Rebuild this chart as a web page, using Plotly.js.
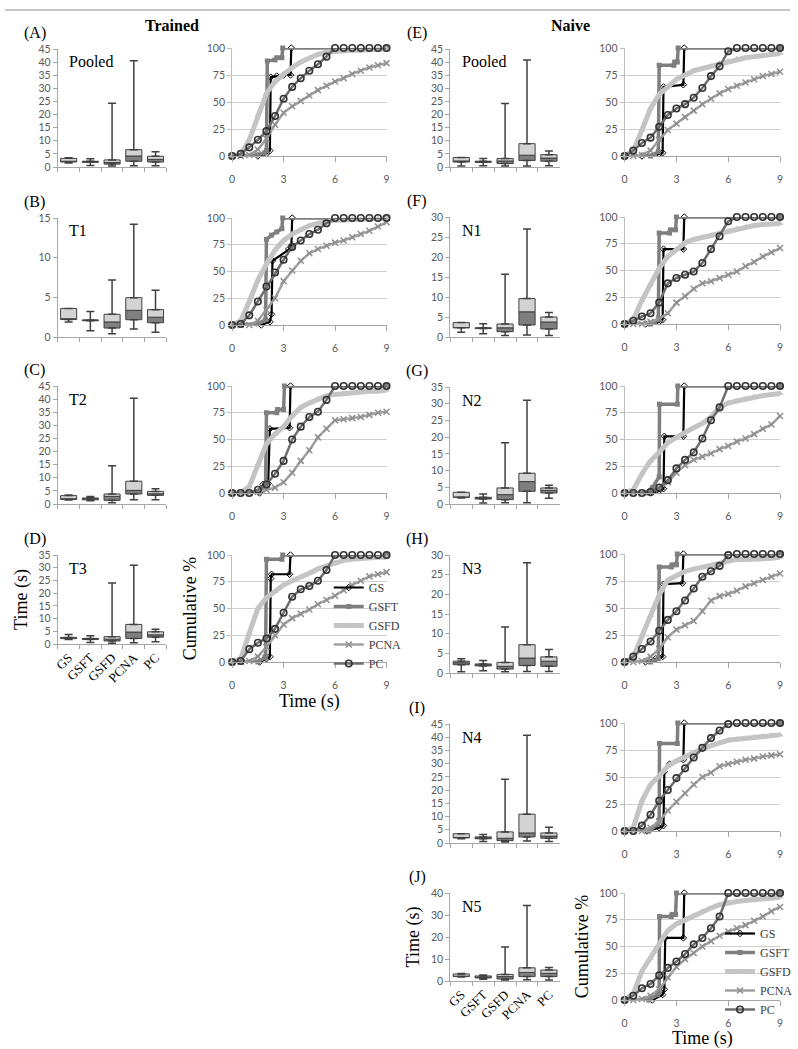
<!DOCTYPE html>
<html><head><meta charset="utf-8">
<script src="https://cdn.plot.ly/plotly-3.0.1.min.js"></script>
<style>html,body{margin:0;padding:0;background:#fff}#chart{width:798px;height:1049px}</style>
</head><body><div id="chart"></div>
<script>
// ---------------- DATA ----------------
const categories = ['GS','GSFT','GSFD','PCNA','PC'];
const seriesNames = ['GS','GSFT','GSFD','PCNA','PC'];
const timeGrid = [0,0.5,1,1.5,2,2.5,3,3.5,4,4.5,5,5.5,6,6.5,7,7.5,8,8.5,9];
const timeTicks = [0,3,6,9];
const pctTicks = [0,25,50,75,100];

// (A) Trained - Pooled
const A_min=[1.5,0.6,0.4,0.5,0.5], A_q1=[1.9,1.8,1.1,2.2,1.9], A_med=[2.2,2.0,1.7,4.2,2.9], A_q3=[3.3,2.2,2.7,6.6,4.1], A_max=[3.5,3.1,24.3,40.5,5.8];
const A_GS_t=[0,1.5,2.0,2.2,2.25,2.6,3.0,3.4,3.45,9], A_GS_y=[0,0,2,5,73,74,75,75,100,100];
const A_GSFT_t=[0,1.5,1.9,2.0,2.05,2.5,2.6,2.9,2.95,9], A_GSFT_y=[0,1,3,5,88,89,91,91,100,100];
const A_GSFD=[0,1,15,38,58,69,76,82,87,91,94,96,97,97.5,98,98,98.5,99,99];
const A_PCNA=[0,0,1,6,16,29,40,46,51,56,61,65,69,72,76,79,82,84,86];
const A_PC=[0,2,8,15,23,37,53,64,72,79,85,92,100,100,100,100,100,100,100];

// (B) Trained - T1
const B_min=[1.9,0.8,0.4,1.0,0.6], B_q1=[2.2,2.05,1.13,2.18,1.8], B_med=[2.3,2.1,1.9,3.36,2.5], B_q3=[3.6,2.15,2.86,4.96,3.45], B_max=[3.6,3.2,7.2,14.2,5.9];
const B_GS_t=[0,1.7,2.2,2.3,2.35,3.3,3.45,3.5,9], B_GS_y=[0,0,3,10,60,71,72,100,100];
const B_GSFT_t=[0,1.5,1.95,2.0,2.3,2.6,2.9,2.95,9], B_GSFT_y=[0,1,5,80,84,87,90,100,100];
const B_GSFD=[0,4,22,42,57,70,79,85,89,93,95,97,98,98,99,99,99,99.5,100];
const B_PCNA=[0,0,0,4,14,25,41,51,60,67,71,74,77,79,82,85,88,92,96];
const B_PC=[0,1,9,22,36,49,61,73,79,85,89,95,100,100,100,100,100,100,100];

// (C) Trained - T2
const C_min=[1.5,1.2,0.5,1.6,1.6], C_q1=[1.7,1.6,1.4,3.8,3.3], C_med=[2.0,2.0,2.9,5.2,3.9], C_q3=[3.2,2.3,3.8,8.7,4.8], C_max=[3.4,2.9,14.6,40.3,5.8];
const C_GS_t=[0,1.6,1.8,2.1,2.2,3.35,3.4,9], C_GS_y=[0,0,8,9,60,61,100,100];
const C_GSFT_t=[0,1.6,1.95,2.0,2.6,2.65,3.0,3.05,9], C_GSFT_y=[0,0,8,75,75,78,78,100,100];
const C_GSFD=[0,0,6,27,46,55,62,72,80,84,88,91,92,93,93,94,95,95,96];
const C_PCNA=[0,0,0,1,3,5,10,19,30,40,52,60,68,69,70,71,73,75,76];
const C_PC=[0,0,0,3,8,18,30,50,62,71,76,87,100,100,100,100,100,100,100];

// (D) Trained - T3
const D_min=[1.8,0.6,0.3,0.5,0.9], D_q1=[2.1,1.8,1.2,2.2,2.7], D_med=[2.3,2.0,1.9,4.7,3.6], D_q3=[2.6,2.2,2.9,7.7,4.8], D_max=[3.7,3.2,24.0,31.0,5.8];
const D_GS_t=[0,1.6,2.0,2.2,2.25,2.3,3.35,3.4,9], D_GS_y=[0,0,3,5,78,82,82,100,100];
const D_GSFT_t=[0,1.5,1.9,1.95,2.0,2.9,2.95,9], D_GSFT_y=[0,0,4,5,96,96,100,100];
const D_GSFD=[0,3,27,50,60,66,72,76,79,83,87,90,93,95,96,97,97,98,98];
const D_PCNA=[0,0,1,5,14,25,35,41,45,49,54,58,62,67,72,76,80,82,84];
const D_PC=[0,1,12,18,22,31,46,61,68,71,76,86,100,100,100,100,100,100,100];

// (E) Naive - Pooled
const E_min=[0.4,0.5,0.4,0.4,0.5], E_q1=[1.9,1.8,1.3,2.5,2.2], E_med=[2.3,2.0,2.3,4.5,3.4], E_q3=[3.6,2.2,3.2,8.9,4.7], E_max=[3.6,3.2,24.2,40.8,6.1];
const E_GS_t=[0,1.0,2.0,2.2,2.25,3.4,3.45,9], E_GS_y=[0,0,2,3,64,66,100,100];
const E_GSFT_t=[0,1.5,1.95,2.0,2.85,2.9,3.05,3.1,9], E_GSFT_y=[0,0,4,84,84,87,87,100,100];
const E_GSFD=[0,5,24,44,57,64,71,75,79,81,83,86,88,90,91,92,93,94,95];
const E_PCNA=[0,0,1,5,15,24,30,36,42,48,53,58,62,65,68,71,74,76,78];
const E_PC=[0,5,12,17,27,38,44,48,54,63,74,83,97,100,100,100,100,100,100];

// (F) Naive - N1
const F_min=[1.2,0.8,0.4,0.5,0.4], F_q1=[2.3,2.1,1.33,3.0,2.0], F_med=[2.35,2.2,2.3,6.3,3.75], F_q3=[3.6,2.3,3.25,9.6,5.0], F_max=[3.6,3.3,15.7,27.0,6.1];
const F_GS_t=[0,1.2,2.0,2.2,2.25,3.4,3.45,9], F_GS_y=[0,0,2,4,70,70,100,100];
const F_GSFT_t=[0,1.5,1.95,2.0,2.6,2.65,2.95,3.0,9], F_GSFT_y=[0,0,4,85,85,88,88,100,100];
const F_GSFD=[0,4,22,37,52,63,70,76,79,81,83,85,87,89,91,92,93,93,94];
const F_PCNA=[0,0,0,2,5,10,20,26,33,38,40,43,46,49,54,58,63,67,71];
const F_PC=[0,3,7,10,20,38,43,46,49,57,70,82,96,100,100,100,100,100,100];

// (G) Naive - N2
const G_min=[1.8,0.3,0.4,0.4,1.7], G_q1=[2.0,1.5,1.3,3.8,3.3], G_med=[2.1,1.8,2.8,6.7,4.1], G_q3=[3.5,2.0,4.8,9.2,4.8], G_max=[3.5,3.0,18.3,31.0,5.6];
const G_GS_t=[0,1.5,2.0,2.25,2.3,3.4,3.45,9], G_GS_y=[0,0,2,4,53,53,100,100];
const G_GSFT_t=[0,1.2,1.6,2.0,2.02,3.05,3.08,9], G_GSFT_y=[0,0,5,15,83,83,100,100];
const G_GSFD=[0,3,18,30,38,47,52,57,61,65,71,80,84,86,88,90,91,92,93];
const G_PCNA=[0,0,0,1,4,10,19,26,31,34,37,41,44,48,51,55,60,64,72];
const G_PC=[0,0,0,1,5,12,23,31,38,51,68,80,100,100,100,100,100,100,100];

// (H) Naive - N3
const H_min=[0.3,0.6,0.3,0.4,0.4], H_q1=[2.1,1.8,1.0,1.9,1.7], H_med=[2.6,2.1,1.7,3.8,3.0], H_q3=[3.0,2.3,2.7,7.2,4.1], H_max=[3.6,3.2,11.7,28.0,6.0];
const H_GS_t=[0,1.2,1.8,2.2,2.25,3.35,3.4,9], H_GS_y=[0,0,3,5,72,73,100,100];
const H_GSFT_t=[0,1.5,1.95,2.0,2.7,2.75,3.0,3.05,9], H_GSFT_y=[0,0,3,88,88,90,90,100,100];
const H_GSFD=[0,4,24,43,62,76,80,84,86,88,89,91,94,95,95,95,95,96,97];
const H_PCNA=[0,0,1,5,12,23,30,34,38,47,57,61,63,66,70,73,76,79,82];
const H_PC=[0,5,12,19,29,39,47,57,68,79,84,89,99,100,100,100,100,100,100];

// (I) Naive - N4
const I_min=[1.6,0.6,0.4,0.8,0.6], I_q1=[1.9,1.6,0.9,2.3,1.8], I_med=[2.1,2.0,1.8,3.8,2.6], I_q3=[3.5,2.3,4.2,10.9,3.8], I_max=[3.5,3.2,24.1,40.7,6.0];
const I_GS_t=[0,1.3,2.0,2.25,2.3,2.6,3.4,3.45,9], I_GS_y=[0,0,3,5,55,62,66,100,100];
const I_GSFT_t=[0,1.4,1.9,2.0,2.02,3.05,3.08,9], I_GSFT_y=[0,0,6,10,81,81,100,100];
const I_GSFD=[0,3,28,43,51,60,65,69,72,76,79,82,84,85,86,87,88,89,89];
const I_PCNA=[0,0,0,3,9,19,27,35,43,50,54,60,62,64,66,67,69,70,71];
const I_PC=[0,0,5,15,28,38,49,58,68,77,86,93,99,100,100,100,100,100,100];

// (J) Naive - N5
const J_min=[1.8,0.8,0.5,0.6,0.5], J_q1=[2.0,1.4,0.9,2.0,2.0], J_med=[2.2,1.8,2.0,3.9,3.5], J_q3=[3.2,2.3,3.0,6.0,5.0], J_max=[3.4,2.7,15.5,34.3,6.1];
const J_GS_t=[0,1.6,2.2,2.3,2.35,3.4,3.45,9], J_GS_y=[0,0,5,10,58,58,100,100];
const J_GSFT_t=[0,1.4,1.9,2.0,2.02,2.7,2.75,2.95,3.0,9], J_GSFT_y=[0,0,5,8,78,78,80,80,100,100];
const J_GSFD=[0,6,27,39,52,65,71,75,79,83,86,89,91,92,93,94,95,95,96];
const J_PCNA=[0,0,1,4,10,21,31,38,44,50,55,60,64,67,70,74,78,83,87];
const J_PC=[0,4,11,15,23,30,36,43,52,58,67,78,100,100,100,100,100,100,100];

// ---------------- LAYOUT / STYLE ----------------
const W=798, H=1049;
const px=p=>p/W, py=p=>1-p/H;
const SERIF='Liberation Serif, Times New Roman, serif';
const TICKFONT={family:'Lato, Liberation Sans, sans-serif', size:10.5, color:'#595959'};
const AXC='#a6a6a6';

const colGeo=[{box:[58,167], line:[233,388], letterX:35, nameX:67},
              {box:[452,562], line:[627,783], letterX:419, nameX:462}];

const panels=[
 {L:'(A)',N:'Pooled',c:0,bt:49,bb:167,lt:48,lb:156,bmax:45,bd:5,mn:A_min,q1:A_q1,md:A_med,q3:A_q3,mx:A_max,gt:A_GS_t,gy:A_GS_y,ft:A_GSFT_t,fy:A_GSFT_y,fd:A_GSFD,na:A_PCNA,pc:A_PC},
 {L:'(B)',N:'T1',c:0,bt:218,bb:337,lt:218,lb:325,bmax:15,bd:5,mn:B_min,q1:B_q1,md:B_med,q3:B_q3,mx:B_max,gt:B_GS_t,gy:B_GS_y,ft:B_GSFT_t,fy:B_GSFT_y,fd:B_GSFD,na:B_PCNA,pc:B_PC},
 {L:'(C)',N:'T2',c:0,bt:386,bb:504,lt:386,lb:493,bmax:45,bd:5,mn:C_min,q1:C_q1,md:C_med,q3:C_q3,mx:C_max,gt:C_GS_t,gy:C_GS_y,ft:C_GSFT_t,fy:C_GSFT_y,fd:C_GSFD,na:C_PCNA,pc:C_PC},
 {L:'(D)',N:'T3',c:0,bt:555,bb:644,lt:555,lb:662,bmax:35,bd:5,mn:D_min,q1:D_q1,md:D_med,q3:D_q3,mx:D_max,gt:D_GS_t,gy:D_GS_y,ft:D_GSFT_t,fy:D_GSFT_y,fd:D_GSFD,na:D_PCNA,pc:D_PC,bottom:true,leg:'legend'},
 {L:'(E)',N:'Pooled',c:1,bt:49,bb:167,lt:48,lb:156,bmax:45,bd:5,mn:E_min,q1:E_q1,md:E_med,q3:E_q3,mx:E_max,gt:E_GS_t,gy:E_GS_y,ft:E_GSFT_t,fy:E_GSFT_y,fd:E_GSFD,na:E_PCNA,pc:E_PC},
 {L:'(F)',N:'N1',c:1,bt:217,bb:337,lt:217,lb:324,bmax:30,bd:5,mn:F_min,q1:F_q1,md:F_med,q3:F_q3,mx:F_max,gt:F_GS_t,gy:F_GS_y,ft:F_GSFT_t,fy:F_GSFT_y,fd:F_GSFD,na:F_PCNA,pc:F_PC},
 {L:'(G)',N:'N2',c:1,bt:387,bb:504,lt:386,lb:493,bmax:35,bd:5,mn:G_min,q1:G_q1,md:G_med,q3:G_q3,mx:G_max,gt:G_GS_t,gy:G_GS_y,ft:G_GSFT_t,fy:G_GSFT_y,fd:G_GSFD,na:G_PCNA,pc:G_PC},
 {L:'(H)',N:'N3',c:1,bt:555,bb:673,lt:554,lb:662,bmax:30,bd:5,mn:H_min,q1:H_q1,md:H_med,q3:H_q3,mx:H_max,gt:H_GS_t,gy:H_GS_y,ft:H_GSFT_t,fy:H_GSFT_y,fd:H_GSFD,na:H_PCNA,pc:H_PC},
 {L:'(I)',N:'N4',c:1,bt:724,bb:843,lt:723,lb:831,bmax:45,bd:5,mn:I_min,q1:I_q1,md:I_med,q3:I_q3,mx:I_max,gt:I_GS_t,gy:I_GS_y,ft:I_GSFT_t,fy:I_GSFT_y,fd:I_GSFD,na:I_PCNA,pc:I_PC},
 {L:'(J)',N:'N5',c:1,bt:893,bb:981,lt:893,lb:1000,bmax:40,bd:10,mn:J_min,q1:J_q1,md:J_med,q3:J_q3,mx:J_max,gt:J_GS_t,gy:J_GS_y,ft:J_GSFT_t,fy:J_GSFT_y,fd:J_GSFD,na:J_PCNA,pc:J_PC,bottom:true,leg:'legend2'}
];

const sStyle={
 GS:  {line:{color:'#000000',width:2.2}, marker:{symbol:'diamond-open',size:5,color:'#000000',line:{width:1,color:'#000000'}}},
 GSFT:{line:{color:'#7f7f7f',width:3.5}, marker:{symbol:'square',size:5,color:'#7f7f7f'}},
 GSFD:{line:{color:'#c4c4c4',width:5}, marker:{symbol:'triangle-up',size:6,color:'#c4c4c4'}},
 PCNA:{line:{color:'#a0a0a0',width:2.5}, marker:{symbol:'x-thin-open',size:6,color:'#8f8f8f',line:{width:1.5,color:'#8f8f8f'}}},
 PC:  {line:{color:'#6e6e6e',width:2.5}, marker:{symbol:'circle-open',size:6.5,color:'#333333',line:{width:1.6,color:'#333333'}}}
};

const data=[]; const layout={width:W,height:H,margin:{l:0,r:0,t:0,b:0},paper_bgcolor:'#fff',plot_bgcolor:'rgba(0,0,0,0)',
  showlegend:true,barmode:'overlay',annotations:[],shapes:[]};

panels.forEach((p,i)=>{
  const g=colGeo[p.c];
  const bn=2*i+1, ln=2*i+2;
  const bx='x'+(bn===1?'':bn), by='y'+(bn===1?'':bn), lx='x'+ln, ly='y'+ln;
  const bxa='xaxis'+(bn===1?'':bn), bya='yaxis'+(bn===1?'':bn);
  // --- box plot axes ---
  layout[bxa]={domain:[px(g.box[0]),px(g.box[1])],anchor:by,type:'category',categoryorder:'array',categoryarray:categories,
    range:[-0.5,4.5],showline:true,linecolor:AXC,linewidth:1,ticks:'outside',tickson:'boundaries',ticklen:4,tickcolor:AXC,
    showgrid:false,zeroline:false,showticklabels:!!p.bottom,tickangle:-45,tickfont:{family:SERIF,size:13,color:'#000'},fixedrange:true};
  layout[bya]={domain:[py(p.bb),py(p.bt)],anchor:bx,range:[0,p.bmax],tick0:0,dtick:p.bd,showline:true,linecolor:AXC,linewidth:1,
    ticks:'outside',ticklen:4,tickcolor:AXC,showgrid:false,zeroline:false,tickfont:TICKFONT,fixedrange:true};
  if(p.bottom){ layout[bya].title={text:'Time (s)',font:{family:SERIF,size:18,color:'#000'},standoff:6}; }
  // --- line chart axes ---
  layout['xaxis'+ln]={domain:[px(g.line[0]),px(g.line[1])],anchor:ly,range:[0,9],tickvals:timeTicks,showline:true,linecolor:AXC,
    linewidth:1,ticks:'outside',ticklen:5,tickcolor:AXC,showgrid:false,zeroline:false,tickfont:TICKFONT,ticklabelstandoff:8,fixedrange:true};
  layout['yaxis'+ln]={domain:[py(p.lb),py(p.lt)],anchor:lx,range:[0,100],tickvals:pctTicks,showline:true,linecolor:'#bfbfbf',
    ticks:'outside',ticklen:4,tickcolor:'#bfbfbf',showgrid:true,gridcolor:'#d0d0d0',gridwidth:1,zeroline:false,tickfont:TICKFONT,fixedrange:true};
  if(p.bottom){
    layout['xaxis'+ln].title={text:'Time (s)',font:{family:SERIF,size:18,color:'#000'},standoff:3};
    layout['yaxis'+ln].title={text:'Cumulative %',font:{family:SERIF,size:18,color:'#000'},standoff:5};
  }
  // --- box plot traces ---
  const lowH=p.md.map((m,k)=>m-p.q1[k]), upH=p.q3.map((q,k)=>q-p.md[k]);
  data.push({type:'bar',x:categories,base:p.q1,y:lowH,width:0.74,xaxis:bx,yaxis:by,showlegend:false,
    marker:{color:'#7f7f7f',line:{color:'#404040',width:1}},hoverinfo:'skip'});
  data.push({type:'bar',x:categories,base:p.md,y:upH,width:0.74,xaxis:bx,yaxis:by,showlegend:false,
    marker:{color:'#d3d3d3',line:{color:'#404040',width:1}},hoverinfo:'skip'});
  data.push({type:'scatter',mode:'markers',x:categories,y:p.q3,xaxis:bx,yaxis:by,showlegend:false,marker:{size:1,color:'rgba(0,0,0,0)'},
    error_y:{type:'data',symmetric:false,array:p.mx.map((m,k)=>m-p.q3[k]),arrayminus:p.q3.map(()=>0),color:'#404040',thickness:1.5,width:4},hoverinfo:'skip'});
  data.push({type:'scatter',mode:'markers',x:categories,y:p.q1,xaxis:bx,yaxis:by,showlegend:false,marker:{size:1,color:'rgba(0,0,0,0)'},
    error_y:{type:'data',symmetric:false,array:p.q1.map(()=>0),arrayminus:p.q1.map((q,k)=>q-p.mn[k]),color:'#404040',thickness:1.5,width:4},hoverinfo:'skip'});
  // --- cumulative traces ---
  const ser=[['GS',p.gt,p.gy],['GSFT',p.ft,p.fy],['GSFD',timeGrid,p.fd],['PCNA',timeGrid,p.na],['PC',timeGrid,p.pc]];
  ser.forEach(([nm,xs,ys])=>{
    const tr={type:'scatter',mode:'lines+markers',name:nm,x:xs,y:ys,xaxis:lx,yaxis:ly,cliponaxis:false,
      line:sStyle[nm].line,marker:sStyle[nm].marker,hoverinfo:'skip',showlegend:!!p.leg};
    if(p.leg) tr.legend=p.leg;
    data.push(tr);
  });
  // --- panel texts ---
  layout.annotations.push({xref:'paper',yref:'paper',x:px(g.letterX),y:py(p.bt-16),text:p.L,showarrow:false,xanchor:'center',yanchor:'middle',font:{family:SERIF,size:16,color:'#000'}});
  layout.annotations.push({xref:'paper',yref:'paper',x:px(g.nameX),y:py(p.bt+13),text:p.N,showarrow:false,xanchor:'left',yanchor:'middle',font:{family:SERIF,size:16,color:'#000'}});
});

layout.annotations.push({xref:'paper',yref:'paper',x:px(173),y:py(25),text:'<b>Trained</b>',showarrow:false,xanchor:'center',yanchor:'middle',font:{family:SERIF,size:16,color:'#000'}});
layout.annotations.push({xref:'paper',yref:'paper',x:px(573),y:py(25),text:'<b>Naive</b>',showarrow:false,xanchor:'center',yanchor:'middle',font:{family:SERIF,size:16,color:'#000'}});
layout.shapes.push({type:'line',xref:'paper',yref:'paper',x0:px(5),x1:px(793),y0:py(10),y1:py(10),line:{color:'#8c8c8c',width:1}});

const legBase={xanchor:'left',yanchor:'top',bgcolor:'rgba(0,0,0,0)',borderwidth:0,itemwidth:30,font:{family:SERIF,size:12,color:'#404040'},tracegroupgap:0};
layout.legend=Object.assign({},legBase,{x:px(330),y:py(573)});
layout.legend2=Object.assign({},legBase,{x:px(723),y:py(919)});

Plotly.newPlot('chart',data,layout,{staticPlot:true,displayModeBar:false});
</script></body></html>
